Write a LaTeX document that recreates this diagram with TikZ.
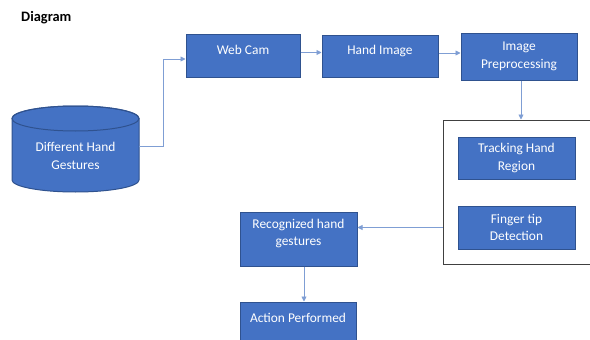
\documentclass[tikz,border=0pt]{standalone}
\usepackage{fontspec}
\setmainfont{Carlito}
\usetikzlibrary{arrows.meta}
\definecolor{boxfill}{HTML}{4472C4}
\definecolor{boxline}{HTML}{2F528F}
\definecolor{arr}{HTML}{7F9ED4}
\definecolor{grpline}{HTML}{404040}
\tikzset{
  blk/.style={draw=boxline, fill=boxfill, line width=1pt, text=white, inner sep=0pt,
    align=center, font=\fontsize{13.4}{17.5}\selectfont},
  lbl/.style={text=white, align=center, font=\fontsize{13.4}{17.5}\selectfont, inner sep=0pt},
  conn/.style={draw=arr, line width=0.9pt, -{Triangle[length=5pt,width=5pt]}},
}
\begin{document}
\begin{tikzpicture}[x=1pt,y=-1pt]
\useasboundingbox (0,0) rectangle (590,340);
\fill[white] (0,0) rectangle (590,340);
\clip (0,0) rectangle (590,340);

\node[font=\bfseries\fontsize{14.4}{16}\selectfont, anchor=west, inner sep=0pt] (title) at (21,18) {Diagram};

% cylinder
\filldraw[fill=boxfill, draw=boxline, line width=1pt]
  (12,118.5) -- (12,180) arc[start angle=180, end angle=360, x radius=63.5pt, y radius=12pt]
  -- (139,118.5) arc[start angle=0, end angle=180, x radius=63.5pt, y radius=12.5pt] -- cycle;
\draw[boxline, line width=1pt] (75.5,118.5) ellipse [x radius=63.5pt, y radius=12.5pt];
\node[lbl] (dhg) at (75.5,156) {Different Hand\\Gestures};
\coordinate (dhgR) at (139,146);

% boxes
\node[blk, minimum width=114pt, minimum height=43pt] (wc) at (243,55.5) {};
\node[lbl] (wct) at (243,50) {Web Cam};
\node[blk, minimum width=116pt, minimum height=42pt] (hi) at (380,56) {};
\node[lbl] (hit) at (380,50.5) {Hand Image};
\node[blk, minimum width=116pt, minimum height=47pt] (ip) at (519,56.5) {Image\\Preprocessing};

\node[draw=grpline, line width=1pt, fill=white, minimum width=157pt, minimum height=144pt, inner sep=0pt] (grp) at (521.5,192) {};
\node[blk, minimum width=117pt, minimum height=42pt] (tr) at (516.5,158) {Tracking Hand\\Region};
\node[blk, minimum width=117pt, minimum height=43pt] (ft) at (516.5,227.5) {Finger tip\\Detection};

\node[blk, minimum width=117pt, minimum height=54pt] (rg) at (298.5,239) {};
\node[lbl] (rgt) at (298.5,233.5) {Recognized hand\\gestures};
\node[blk, minimum width=116pt, minimum height=46pt] (ap) at (298,325) {};
\node[lbl] (apt) at (298,318) {Action Performed};

% connectors
\draw[conn] (dhgR) -- ++(24,0) |- ([yshift=-3.5pt]wc.west);
\draw[conn] ([yshift=3pt]wc.east) -- ([yshift=3pt]wc.east -| hi.west);
\draw[conn] ([yshift=3pt]hi.east) -- ([yshift=3pt]hi.east -| ip.west);
\draw[conn] ([xshift=2pt]ip.south) -- ([xshift=2pt]ip.south |- grp.north);
\draw[conn] (grp.west |- ft.west) -- (rg.east |- ft.west);
\draw[conn] ([xshift=5.5pt]rg.south) -- ([xshift=5.5pt]rg.south |- ap.north);
\end{tikzpicture}
\end{document}
